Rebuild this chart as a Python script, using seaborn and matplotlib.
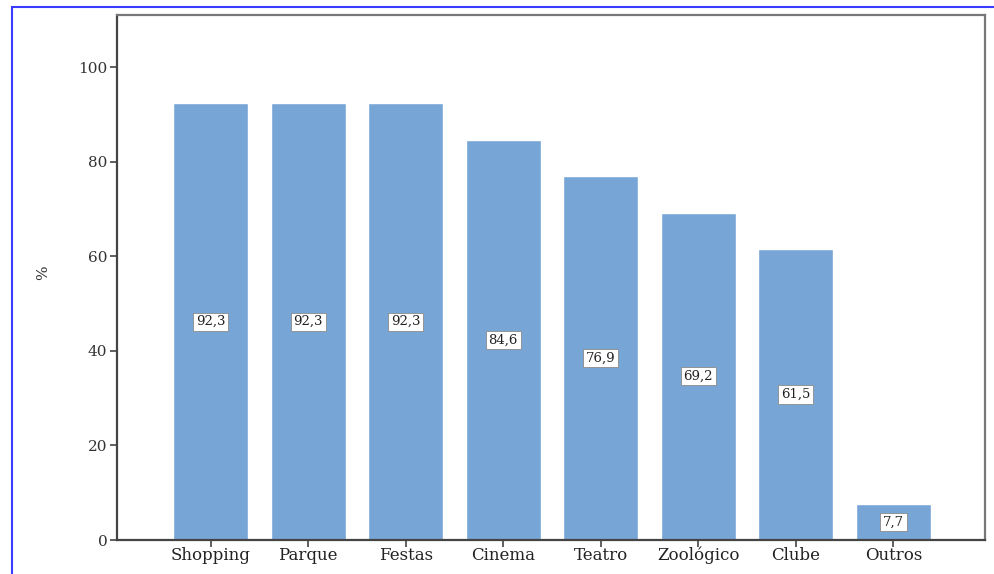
import matplotlib.pyplot as plt
import pandas as pd
import seaborn as sns
from matplotlib.patches import Rectangle

categories = ["Shopping", "Parque", "Festas", "Cinema", "Teatro", "Zoológico", "Clube", "Outros"]
percent = [92.3, 92.3, 92.3, 84.6, 76.9, 69.2, 61.5, 7.7]
value_labels = ["92,3", "92,3", "92,3", "84,6", "76,9", "69,2", "61,5", "7,7"]
y_ticks = [0, 20, 40, 60, 80, 100]

df = pd.DataFrame({"local": categories, "pct": percent})

sns.set_style("white")
plt.rcParams["font.family"] = ["DejaVu Serif"]

fig = plt.figure(figsize=(9.95, 5.74), dpi=100)
ax = fig.add_axes([117 / 995, 1 - 540 / 574, (985 - 117) / 995, (540 - 15) / 574])

sns.barplot(data=df, x="local", y="pct", color="#77A6D6", saturation=1,
            width=0.77, ax=ax)

# value labels in the middle of each bar
for i, (v, lab) in enumerate(zip(percent, value_labels)):
    ax.text(i, v / 2, lab, ha="center", va="center", fontsize=9.5, color="#222222",
            bbox=dict(boxstyle="square,pad=0.2", facecolor="white",
                      edgecolor="#8a8a8a", linewidth=0.6))

ax.set_xlim(-0.96, 7.94)
ax.set_ylim(0, 111)
ax.set_yticks(y_ticks)
ax.set_yticklabels([str(t) for t in y_ticks], fontsize=11, color="#333333")
ax.set_xticks(range(len(categories)))
ax.set_xticklabels(categories, fontsize=12, color="#222222")
ax.tick_params(axis="both", direction="out", length=5, width=1.2, color="#444444",
               bottom=True, left=True, pad=2)
ax.tick_params(axis="x", pad=0)
ax.set_xlabel("")
ax.set_ylabel("%", fontsize=11, color="#333333")
ax.yaxis.set_label_coords(-0.077, 0.51)

for side in ["left", "bottom"]:
    ax.spines[side].set_color("#444444")
    ax.spines[side].set_linewidth(1.6)
for side in ["top", "right"]:
    ax.spines[side].set_color("#777777")
    ax.spines[side].set_linewidth(1.6)

# blue outer frame
fig.patches.append(Rectangle((12 / 995, -0.05), 1.1, 1 - 7 / 574 + 0.05,
                             transform=fig.transFigure, fill=False,
                             edgecolor="#3b3bff", linewidth=1.5))

fig.savefig("out.png", dpi=100)
